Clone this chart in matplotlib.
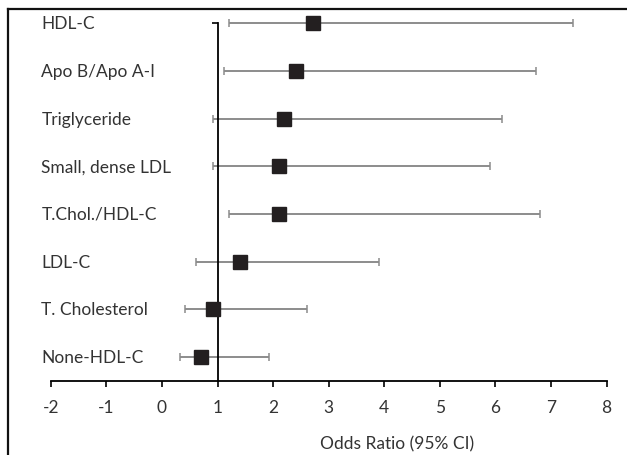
import numpy as np
import matplotlib
matplotlib.use("Agg")
import matplotlib.pyplot as plt
from matplotlib.lines import Line2D

# forest plot data
labels = ["HDL-C", "Apo B/Apo A-I", "Triglyceride", "Small, dense LDL",
          "T.Chol./HDL-C", "LDL-C", "T. Cholesterol", "None-HDL-C"]
odds = [2.71, 2.41, 2.20, 2.10, 2.10, 1.41, 0.91, 0.71]
ci_low = [1.20, 1.12, 0.92, 0.92, 1.20, 0.61, 0.41, 0.33]
ci_high = [7.40, 6.72, 6.11, 5.90, 6.80, 3.91, 2.61, 1.92]
xticks = [-2, -1, 0, 1, 2, 3, 4, 5, 6, 7, 8]

plt.rcParams['font.family'] = ['Lato', 'DejaVu Sans']

fig = plt.figure(figsize=(6.27, 4.56), dpi=100)
ax = fig.add_axes([0.0809, 0.1629, 0.8867, 0.7838])

# frame around the picture (only top/left visible in the crop)
fig.add_artist(Line2D([0.012, 1.0], [0.979, 0.979], transform=fig.transFigure,
                      color='#111111', lw=1.6, zorder=10))
fig.add_artist(Line2D([0.012, 0.012], [0.0, 0.979], transform=fig.transFigure,
                      color='#111111', lw=1.6, zorder=10))

n = len(labels)
ypos = np.arange(n, 0, -1)
odds = np.array(odds)
lo = odds - np.array(ci_low)
hi = np.array(ci_high) - odds

eb = ax.errorbar(odds, ypos, xerr=[lo, hi], fmt='none', ecolor='#8c8c8c',
                 elinewidth=1.4, capsize=3.2, capthick=1.1, zorder=2)
for part in eb.lines[1] + eb.lines[2]:
    part.set_clip_on(False)
ax.plot(odds, ypos, 's', color='#231f20', markersize=9.5, zorder=3, clip_on=False)

for y, lab in zip(ypos, labels):
    ax.text(-2.17, y, lab, ha='left', va='center', fontsize=12.5,
            color='#333333', clip_on=False)

ax.set_xlim(-2, 8)
ax.set_ylim(0.5, n)
ax.set_xticks(xticks)
ax.set_xticklabels([str(t) for t in xticks], fontsize=12.5, color='#333333')
ax.tick_params(axis='x', direction='out', length=4, width=1.2, pad=9)
ax.set_yticks([n])
ax.set_yticklabels([''])
ax.tick_params(axis='y', direction='out', length=4, width=1.2)

ax.spines['left'].set_position(('data', 1))
ax.spines['left'].set_linewidth(1.3)
ax.spines['bottom'].set_linewidth(1.3)
ax.spines['top'].set_visible(False)
ax.spines['right'].set_visible(False)
ax.patch.set_visible(False)

ax.set_xlabel('Odds Ratio (95% CI)', fontsize=12.5, color='#333333')
ax.xaxis.label.set_verticalalignment('center')
ax.xaxis.set_label_coords(0.623, -0.176)

fig.savefig('out.png', dpi=100)
